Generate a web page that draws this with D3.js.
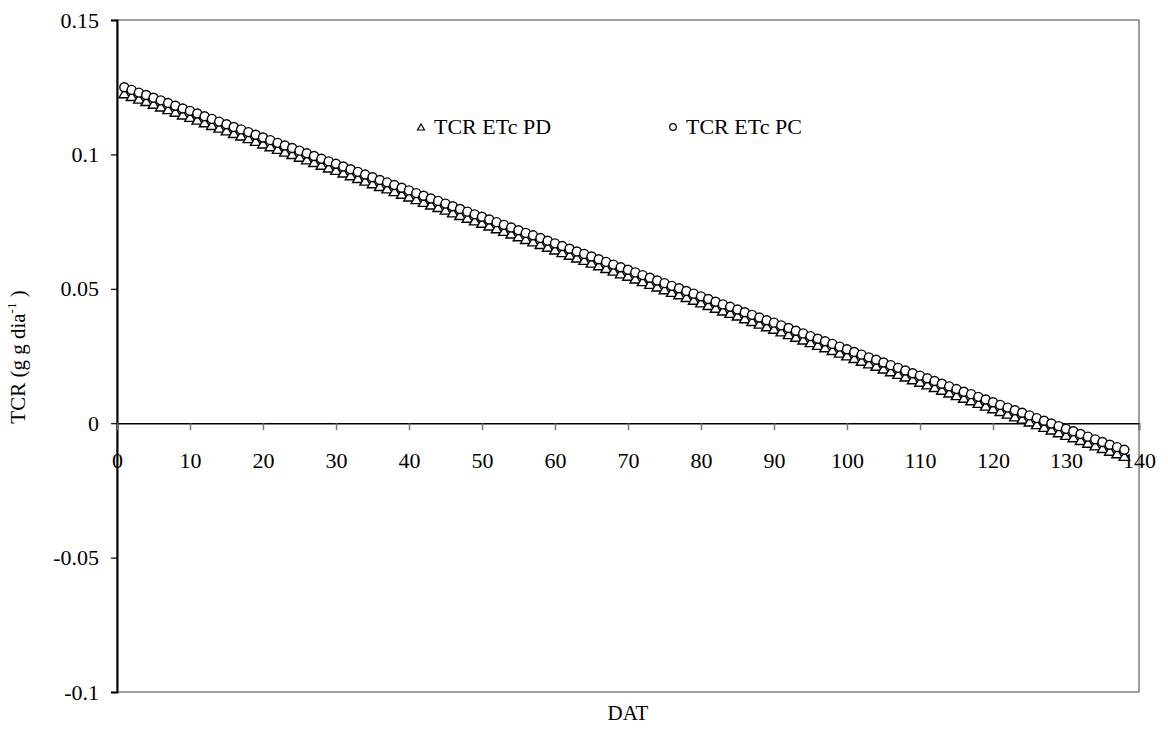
<!DOCTYPE html>
<html>
<head>
<meta charset="utf-8">
<script src="https://cdn.jsdelivr.net/npm/d3@7"></script>
<style>
  html, body { margin: 0; padding: 0; background: #fff; }
  svg { display: block; }
  svg text { font-family: "Liberation Serif", "Times New Roman", Times, serif; }
</style>
</head>
<body>
<svg id="chart" width="1168" height="742"></svg>
<script>
// Days after transplanting (DAT)
const days = [
  1,2,3,4,5,6,7,8,9,10,11,12,13,14,15,16,17,18,19,20,
  21,22,23,24,25,26,27,28,29,30,31,32,33,34,35,36,37,38,39,40,
  41,42,43,44,45,46,47,48,49,50,51,52,53,54,55,56,57,58,59,60,
  61,62,63,64,65,66,67,68,69,70,71,72,73,74,75,76,77,78,79,80,
  81,82,83,84,85,86,87,88,89,90,91,92,93,94,95,96,97,98,99,100,
  101,102,103,104,105,106,107,108,109,110,111,112,113,114,115,116,117,118,119,120,
  121,122,123,124,125,126,127,128,129,130,131,132,133,134,135,136,137,138
];

// Relative growth rate, ETc PD treatment
const tcrPD = [
  0.1222,0.1212,0.1202,0.1193,0.1183,0.1173,0.1163,0.1153,0.1143,0.1134,
  0.1124,0.1114,0.1104,0.1094,0.1084,0.1074,0.1065,0.1055,0.1045,0.1035,
  0.1025,0.1015,0.1005,0.0996,0.0986,0.0976,0.0966,0.0956,0.0946,0.0937,
  0.0927,0.0917,0.0907,0.0897,0.0887,0.0877,0.0868,0.0858,0.0848,0.0838,
  0.0828,0.0818,0.0808,0.0799,0.0789,0.0779,0.0769,0.0759,0.0749,0.0740,
  0.0730,0.0720,0.0710,0.0700,0.0690,0.0680,0.0671,0.0661,0.0651,0.0641,
  0.0631,0.0621,0.0611,0.0602,0.0592,0.0582,0.0572,0.0562,0.0552,0.0543,
  0.0533,0.0523,0.0513,0.0503,0.0493,0.0483,0.0474,0.0464,0.0454,0.0444,
  0.0434,0.0424,0.0414,0.0405,0.0395,0.0385,0.0375,0.0365,0.0355,0.0346,
  0.0336,0.0326,0.0316,0.0306,0.0296,0.0286,0.0277,0.0267,0.0257,0.0247,
  0.0237,0.0227,0.0217,0.0208,0.0198,0.0188,0.0178,0.0168,0.0158,0.0149,
  0.0139,0.0129,0.0119,0.0109,0.0099,0.0089,0.0080,0.0070,0.0060,0.0050,
  0.0040,0.0030,0.0020,0.0011,0.0001,-0.0009,-0.0019,-0.0029,-0.0039,-0.0049,
  -0.0058,-0.0068,-0.0078,-0.0088,-0.0098,-0.0108,-0.0117,-0.0127
];

// Relative growth rate, ETc PC treatment
const tcrPC = [
  0.1250,0.1240,0.1230,0.1221,0.1211,0.1201,0.1191,0.1181,0.1171,0.1162,
  0.1152,0.1142,0.1132,0.1122,0.1112,0.1102,0.1093,0.1083,0.1073,0.1063,
  0.1053,0.1043,0.1033,0.1024,0.1014,0.1004,0.0994,0.0984,0.0974,0.0965,
  0.0955,0.0945,0.0935,0.0925,0.0915,0.0905,0.0896,0.0886,0.0876,0.0866,
  0.0856,0.0846,0.0836,0.0827,0.0817,0.0807,0.0797,0.0787,0.0777,0.0768,
  0.0758,0.0748,0.0738,0.0728,0.0718,0.0708,0.0699,0.0689,0.0679,0.0669,
  0.0659,0.0649,0.0639,0.0630,0.0620,0.0610,0.0600,0.0590,0.0580,0.0571,
  0.0561,0.0551,0.0541,0.0531,0.0521,0.0511,0.0502,0.0492,0.0482,0.0472,
  0.0462,0.0452,0.0442,0.0433,0.0423,0.0413,0.0403,0.0393,0.0383,0.0374,
  0.0364,0.0354,0.0344,0.0334,0.0324,0.0314,0.0305,0.0295,0.0285,0.0275,
  0.0265,0.0255,0.0245,0.0236,0.0226,0.0216,0.0206,0.0196,0.0186,0.0177,
  0.0167,0.0157,0.0147,0.0137,0.0127,0.0117,0.0108,0.0098,0.0088,0.0078,
  0.0068,0.0058,0.0048,0.0039,0.0029,0.0019,0.0009,-0.0001,-0.0011,-0.0021,
  -0.0030,-0.0040,-0.0050,-0.0060,-0.0070,-0.0080,-0.0089,-0.0099
];

const xTicks = [0, 10, 20, 30, 40, 50, 60, 70, 80, 90, 100, 110, 120, 130, 140];
const yTicks = [-0.1, -0.05, 0, 0.05, 0.1, 0.15];
const seriesNames = ["TCR ETc PD", "TCR ETc PC"];

const svg = d3.select("#chart");
const plot = { left: 117, right: 1139, top: 20, bottom: 692 };
const FONT = 22;
const SERIF = "'Liberation Serif', 'Times New Roman', Times, serif";

const x = d3.scaleLinear().domain([0, 140]).range([plot.left, plot.right]);
const y = d3.scaleLinear().domain([-0.1, 0.15]).range([plot.bottom, plot.top]);

// plot-area frame
svg.append("rect")
  .attr("x", plot.left).attr("y", plot.top)
  .attr("width", plot.right - plot.left).attr("height", plot.bottom - plot.top)
  .attr("fill", "none").attr("stroke", "#808080").attr("stroke-width", 1.5);

// y axis (left)
const yAxis = d3.axisLeft(y).tickValues(yTicks).tickSize(6).tickPadding(12)
  .tickFormat(d => d === 0 ? "0" : String(+d.toFixed(2)));
const gy = svg.append("g").attr("transform", `translate(${plot.left},0)`).call(yAxis);
gy.attr("font-family", SERIF);
gy.select(".domain").attr("stroke", "#000").attr("stroke-width", 2);
gy.selectAll(".tick line").attr("stroke", "#000").attr("stroke-width", 1.2);
gy.selectAll(".tick text").attr("font-size", FONT).attr("font-family", SERIF).attr("fill", "#000");

// x axis crossing at y = 0
const xAxis = d3.axisBottom(x).tickValues(xTicks).tickSize(7).tickPadding(22)
  .tickFormat(d3.format("d"));
const gx = svg.append("g").attr("transform", `translate(0,${y(0)})`).call(xAxis);
gx.attr("font-family", SERIF);
gx.select(".domain").attr("stroke", "#000").attr("stroke-width", 1.5);
gx.selectAll(".tick line").attr("stroke", "#777").attr("stroke-width", 1.5);
gx.selectAll(".tick text").attr("font-size", FONT).attr("font-family", SERIF).attr("fill", "#000");

// marker shapes
const triPath = (s) => {
  const h = s * Math.sqrt(3) / 2;
  return `M0,${-h * 2 / 3}L${s / 2},${h / 3}L${-s / 2},${h / 3}Z`;
};

// PD series (triangles)
svg.append("g").selectAll("path")
  .data(days.map((d, i) => [d, tcrPD[i]]))
  .join("path")
  .attr("d", triPath(10.5))
  .attr("transform", d => `translate(${x(d[0])},${y(d[1])})`)
  .attr("fill", "#fff").attr("stroke", "#000").attr("stroke-width", 1.4);

// PC series (circles)
svg.append("g").selectAll("circle")
  .data(days.map((d, i) => [d, tcrPC[i]]))
  .join("circle")
  .attr("cx", d => x(d[0])).attr("cy", d => y(d[1])).attr("r", 4.5)
  .attr("fill", "#fff").attr("stroke", "#000").attr("stroke-width", 1.4);

// legend
const lg = svg.append("g").attr("font-family", SERIF);
lg.append("path").attr("d", triPath(7))
  .attr("transform", "translate(421,128)")
  .attr("fill", "#fff").attr("stroke", "#000").attr("stroke-width", 1.2);
lg.append("text").attr("x", 434).attr("y", 134).attr("font-size", FONT).text(seriesNames[0]);
lg.append("circle").attr("cx", 673).attr("cy", 127).attr("r", 3.3)
  .attr("fill", "#fff").attr("stroke", "#000").attr("stroke-width", 1.2);
lg.append("text").attr("x", 686).attr("y", 134).attr("font-size", FONT).text(seriesNames[1]);

// axis titles
svg.append("text").attr("x", 628).attr("y", 720).attr("text-anchor", "middle")
  .attr("font-family", SERIF).attr("font-size", FONT - 1).text("DAT");

const yt = svg.append("text")
  .attr("transform", "translate(25,357) rotate(-90)")
  .attr("text-anchor", "middle").attr("font-family", SERIF).attr("font-size", FONT - 1);
yt.append("tspan").text("TCR (g g dia");
yt.append("tspan").attr("dy", -9).attr("font-size", 13).text("-1");
yt.append("tspan").attr("dy", 9).text(" )");
</script>
</body>
</html>
